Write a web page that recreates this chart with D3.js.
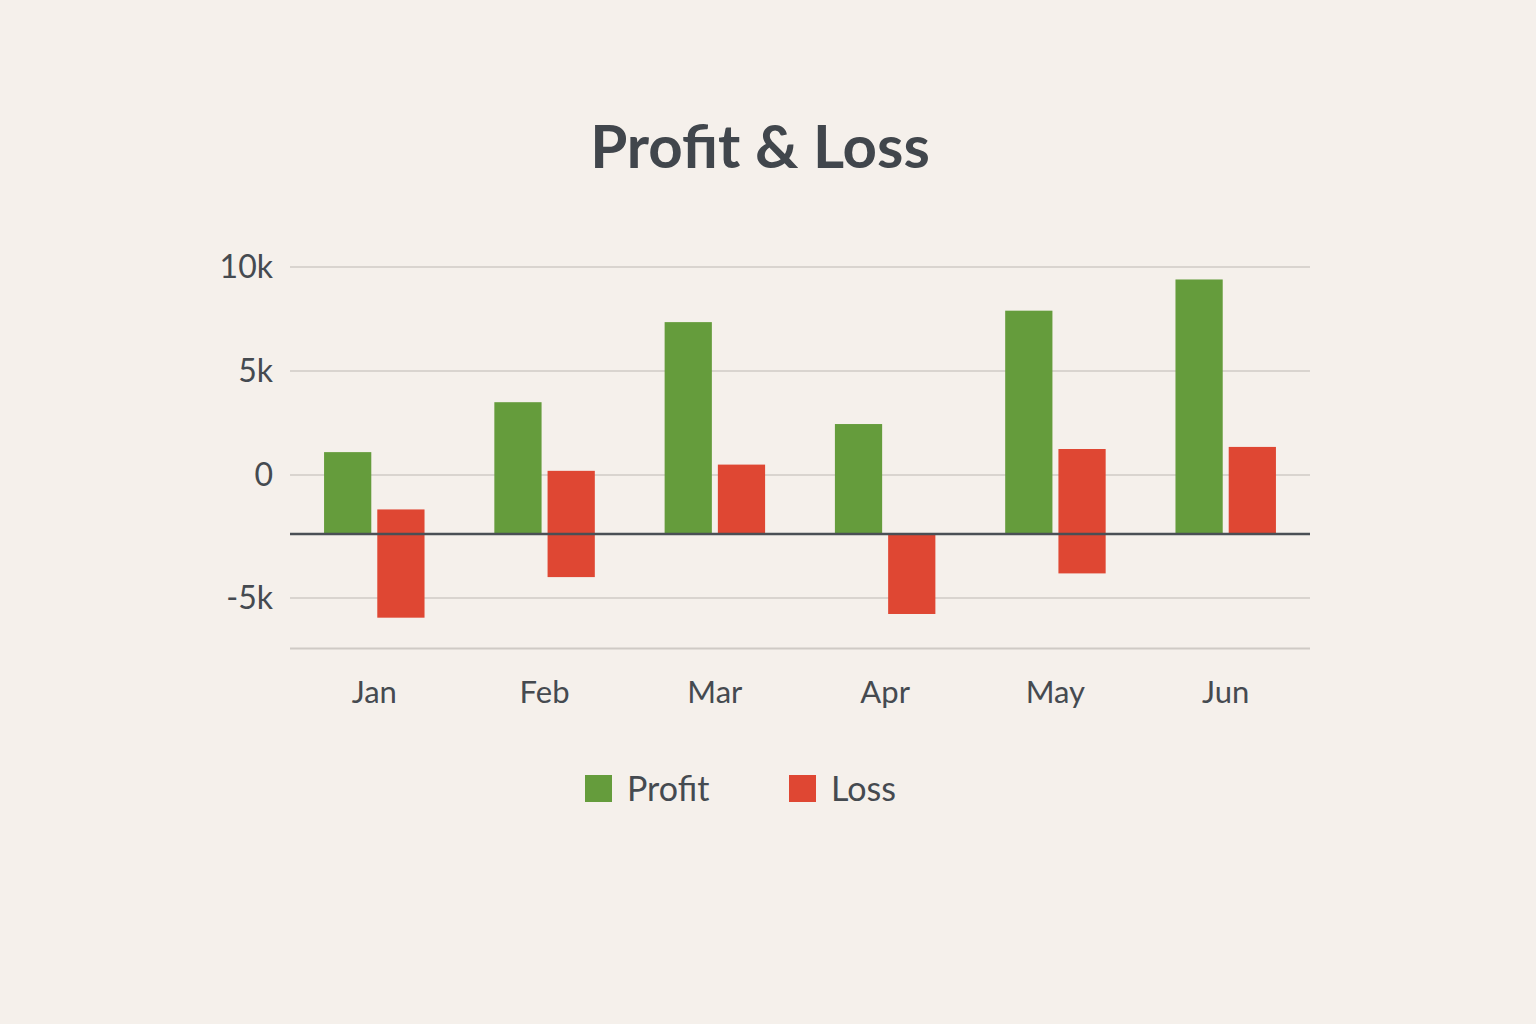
<!DOCTYPE html>
<html>
<head>
<meta charset="utf-8">
<script src="https://cdn.jsdelivr.net/npm/d3@7"></script>
<style>
  body { margin: 0; background: #f5f0eb; }
  text { font-family: Lato, "Open Sans", sans-serif; }
</style>
</head>
<body>
<div id="chart"></div>
<script>
const months = ["Jan", "Feb", "Mar", "Apr", "May", "Jun"];
const profit = [1100, 3500, 7350, 2450, 7900, 9400];
const lossStart = [-1400, 200, 500, -2400, 1250, 1350];
const lossEnd = [-5800, -4150, -2400, -5650, -4000, -2400];
const baseValue = -2400;
const yTicks = [10000, 5000, 0, -5000];
const yTickLabels = ["10k", "5k", "0", "-5k"];
const bottomValue = -7050;

const width = 1536, height = 1024;
const left = 290, right = 1310;

const svg = d3.select("#chart").append("svg")
    .attr("width", width).attr("height", height);
svg.append("rect").attr("width", width).attr("height", height).attr("fill", "#f5f0eb");

// piecewise axis, matching the uneven spacing of the original
const y = d3.scaleLinear().domain([-5000, 0, 10000]).range([598, 475, 267]);
const x = d3.scaleBand().domain(months).range([left, right]).paddingInner(0.41).paddingOuter(0.2);
const bw = (x.bandwidth() - 6) / 2;

svg.append("text").attr("x", 760).attr("y", 168).attr("text-anchor", "middle")
    .attr("font-size", 60).attr("font-weight", 700).attr("fill", "#41464c")
    .text("Profit & Loss");

const grid = svg.append("g");
grid.selectAll("line").data(yTicks).enter().append("line")
    .attr("x1", left).attr("x2", right)
    .attr("y1", d => y(d)).attr("y2", d => y(d))
    .attr("stroke", "#d9d4cf").attr("stroke-width", 2);
grid.append("line").attr("x1", left).attr("x2", right)
    .attr("y1", y(bottomValue)).attr("y2", y(bottomValue))
    .attr("stroke", "#cfcac5").attr("stroke-width", 2);

svg.append("g").selectAll("text").data(yTicks).enter().append("text")
    .attr("x", 273).attr("y", d => y(d) + 11).attr("text-anchor", "end")
    .attr("font-size", 32).attr("fill", "#454a50")
    .text((d, i) => yTickLabels[i]);

svg.append("g").selectAll("rect").data(months).enter().append("rect")
    .attr("x", d => x(d)).attr("width", bw)
    .attr("y", (d, i) => y(profit[i]))
    .attr("height", (d, i) => y(baseValue) - y(profit[i]))
    .attr("fill", "#659c3c");

svg.append("g").selectAll("rect").data(months).enter().append("rect")
    .attr("x", d => x(d) + bw + 6).attr("width", bw)
    .attr("y", (d, i) => y(Math.max(lossStart[i], lossEnd[i])))
    .attr("height", (d, i) => Math.abs(y(lossEnd[i]) - y(lossStart[i])))
    .attr("fill", "#df4733");

svg.append("line").attr("x1", left).attr("x2", right)
    .attr("y1", y(baseValue)).attr("y2", y(baseValue))
    .attr("stroke", "#4a4f55").attr("stroke-width", 2.5);

svg.append("g").selectAll("text").data(months).enter().append("text")
    .attr("x", d => x(d) + x.bandwidth() / 2).attr("y", 703)
    .attr("text-anchor", "middle").attr("font-size", 31).attr("fill", "#454a50")
    .text(d => d);

const legend = [["Profit", "#659c3c", 585], ["Loss", "#df4733", 789]];
const lg = svg.append("g").selectAll("g").data(legend).enter().append("g");
lg.append("rect").attr("x", d => d[2]).attr("y", 775).attr("width", 27).attr("height", 27)
    .attr("fill", d => d[1]);
lg.append("text").attr("x", d => d[2] + 42).attr("y", 801)
    .attr("font-size", 34).attr("fill", "#454a50").text(d => d[0]);
</script>
</body>
</html>
